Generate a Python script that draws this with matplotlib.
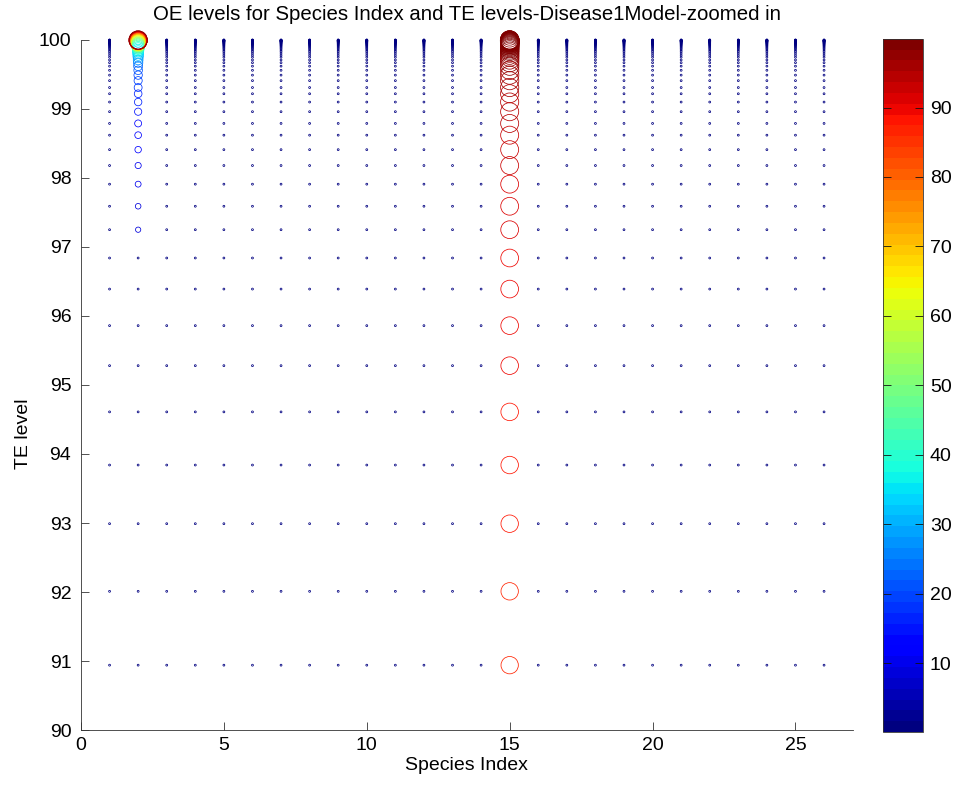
import numpy as np
import matplotlib
matplotlib.use("Agg")
from matplotlib import pyplot as plt
from matplotlib.colors import Normalize
from matplotlib.cm import ScalarMappable

plt.rcParams["font.family"] = ["Liberation Sans", "DejaVu Sans"]
plt.rcParams["font.size"] = 14

# TE levels, lowest to highest
te_levels = [90.94, 92.01, 92.99, 93.84, 94.61, 95.28, 95.86, 96.39, 96.84,
             97.25, 97.59, 97.91, 98.18, 98.41, 98.62, 98.79, 98.96, 99.10,
             99.22, 99.31, 99.41, 99.49, 99.56, 99.62, 99.67, 99.71, 99.75,
             99.78, 99.81, 99.835, 99.855, 99.875, 99.89, 99.905, 99.917,
             99.927, 99.936, 99.944, 99.951, 99.957, 99.963, 99.968, 99.972,
             99.976, 99.979, 99.982, 99.985, 99.987, 99.989, 99.991, 99.993,
             99.995, 99.997, 100.0]

species = list(range(1, 27))

# OE level of the species that stay low at every TE level
oe_other = 1.0

# OE levels for species 2, one per TE level
oe_species2 = [1.0, 1.0, 1.0, 1.0, 1.0, 1.0, 1.0, 1.0, 1.0,
               8, 9, 10, 11, 12, 13, 14, 15, 16,
               17, 18, 19, 20, 21, 23, 25, 27, 29,
               31, 33, 35, 37, 39, 42, 45, 48,
               51, 54, 57, 60, 63, 66, 69, 72,
               75, 78, 81, 84, 87, 89, 91, 93,
               95, 96, 97]

# OE levels for species 15, one per TE level
oe_species15 = [86.5, 87.0, 87.5, 88.0, 88.5, 89.0, 89.5, 90.0, 90.5,
                91.0, 91.5, 92.0, 92.5, 93.0, 93.4, 93.8, 94.2, 94.6,
                95.0, 95.4, 95.8, 96.2, 96.6, 97.0, 97.3, 97.6, 97.9,
                98.1, 98.3, 98.5, 98.7, 98.9, 99.0, 99.1, 99.2,
                99.3, 99.35, 99.4, 99.45, 99.5, 99.55, 99.6, 99.63,
                99.66, 99.69, 99.72, 99.75, 99.78, 99.8, 99.82, 99.84,
                99.86, 99.88, 99.9]

xs, ys, vals = [], [], []
for sp in species:
    for i, te in enumerate(te_levels):
        if sp == 2:
            v = oe_species2[i]
        elif sp == 15:
            v = oe_species15[i]
        else:
            v = oe_other
        xs.append(sp)
        ys.append(te)
        vals.append(v)
vals = np.array(vals)

cmap = plt.get_cmap("jet", 64)
norm = Normalize(vmin=vals.min() - 0.9, vmax=vals.max())

fig = plt.figure(figsize=(9.55, 7.86), dpi=100)
ax = fig.add_axes([0.0848, 0.0712, 0.808, 0.878])
cax = fig.add_axes([0.9246, 0.0687, 0.0419, 0.882])

ax.scatter(xs, ys, s=vals * 1.8, facecolors="none",
           edgecolors=cmap(norm(vals)), linewidths=0.55, clip_on=False)

ax.set_xlim(0, 27)
ax.set_ylim(90, 100)
ax.set_xticks(range(0, 26, 5))
ax.set_yticks(range(90, 101, 1))
ax.spines["top"].set_visible(False)
ax.spines["right"].set_visible(False)
for s in ["left", "bottom"]:
    ax.spines[s].set_linewidth(0.6)
    ax.spines[s].set_color("#333333")
ax.tick_params(direction="in", length=5.5, width=0.6, color="#333333",
               labelsize=14)
ax.tick_params(axis="y", pad=7)
ax.tick_params(axis="x", pad=5)
ax.set_xlabel("Species Index", labelpad=2)
ax.set_ylabel("TE level")
ax.yaxis.set_label_coords(-0.064, 0.43)
ax.set_title("OE levels for Species Index and TE levels-Disease1Model-zoomed in",
             pad=14, fontsize=14.7)

cb = fig.colorbar(ScalarMappable(norm=norm, cmap=cmap), cax=cax)
cb.set_ticks(range(10, 100, 10))
cb.outline.set_linewidth(0.6)
cb.outline.set_edgecolor("#333333")
cax.tick_params(direction="in", length=5.5, width=0.6, left=True, right=True,
                color="#111111", labelsize=14, pad=5)

fig.savefig("out.png", dpi=100)
